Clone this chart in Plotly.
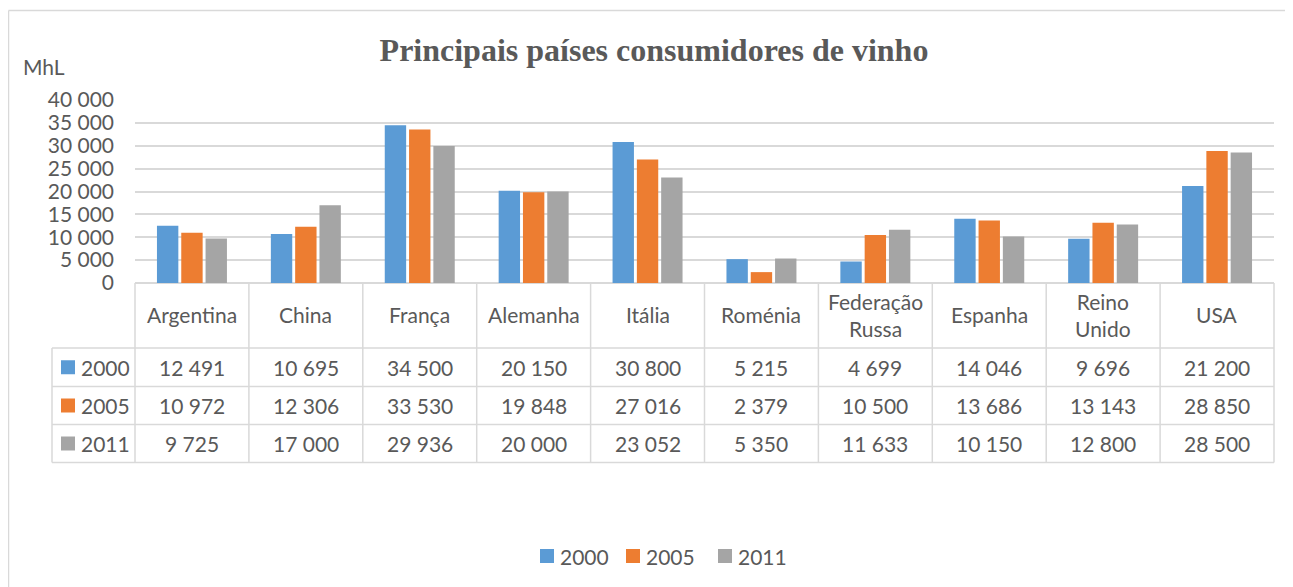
import plotly.graph_objects as go

OFF = 8  # default page margin of the browser
W, H = 1293 - OFF, 587 - OFF

categories = ["Argentina", "China", "França", "Alemanha", "Itália", "Roménia",
              "Federação<br>Russa", "Espanha", "Reino<br>Unido", "USA"]
years = ["2000", "2005", "2011"]
v2000 = [12491, 10695, 34500, 20150, 30800, 5215, 4699, 14046, 9696, 21200]
v2005 = [10972, 12306, 33530, 19848, 27016, 2379, 10500, 13686, 13143, 28850]
v2011 = [9725, 17000, 29936, 20000, 23052, 5350, 11633, 10150, 12800, 28500]
series = [v2000, v2005, v2011]
colors = ["#5B9BD5", "#ED7D31", "#A5A5A5"]
yticks = [0, 5000, 10000, 15000, 20000, 25000, 30000, 35000, 40000]

TXT = "#595959"
GRID = "#D9D9D9"
FONT = "Lato"
fs = 21


def px(x):
    return (x - OFF) / W


def py(y):
    return 1 - (y - OFF) / H


def fmt(v):
    return f"{v:,}".replace(",", " ")


# plot area in reference pixels
X0, X1 = 135, 1274
Y_TOP, Y_BOT = 100, 283
ROWS = [348, 386.5, 424.5, 462.5]
TLEFT = 52

fig = go.Figure()
for name, vals, c in zip(years, series, colors):
    fig.add_trace(go.Bar(x=list(range(len(categories))), y=vals, name=name,
                         marker=dict(color=c, line=dict(width=0)), showlegend=False))

shapes = []
lc = dict(color=GRID, width=1.5)
# outer border (left and top)
shapes.append(dict(type="line", xref="paper", yref="paper", x0=px(8.5), x1=1, y0=py(10.5), y1=py(10.5), line=lc))
shapes.append(dict(type="line", xref="paper", yref="paper", x0=px(8.5), x1=px(8.5), y0=py(10.5), y1=0, line=lc))
# data table grid
n = len(categories)
colw = (X1 - X0) / n
for i in range(n + 1):
    xx = X0 + i * colw
    shapes.append(dict(type="line", xref="paper", yref="paper", x0=px(xx), x1=px(xx),
                       y0=py(Y_BOT), y1=py(ROWS[-1]), line=lc))
shapes.append(dict(type="line", xref="paper", yref="paper", x0=px(TLEFT), x1=px(TLEFT),
                   y0=py(ROWS[0]), y1=py(ROWS[-1]), line=lc))
for r in ROWS:
    shapes.append(dict(type="line", xref="paper", yref="paper", x0=px(TLEFT), x1=px(X1),
                       y0=py(r), y1=py(r), line=lc))

ann = []
# legend keys in table
for j, (c, yr) in enumerate(zip(colors, years)):
    yc = (ROWS[j] + ROWS[j + 1]) / 2
    shapes.append(dict(type="rect", xref="paper", yref="paper", x0=px(61), x1=px(75),
                       y0=py(yc + 7), y1=py(yc - 7), fillcolor=c, line=dict(width=0)))
    ann.append(dict(x=px(79), y=py(yc), xref="paper", yref="paper", text=yr,
                    showarrow=False, font=dict(size=fs, color=TXT, family=FONT),
                    xanchor="left", yanchor="middle"))

for i, cat in enumerate(categories):
    xc = X0 + (i + 0.5) * colw
    ann.append(dict(x=px(xc), y=py((Y_BOT + ROWS[0]) / 2 - 1), xref="paper", yref="paper", text=cat,
                    showarrow=False, font=dict(size=fs, color=TXT, family=FONT),
                    xanchor="center", yanchor="middle"))
    for j, vals in enumerate(series):
        yc = (ROWS[j] + ROWS[j + 1]) / 2
        ann.append(dict(x=px(xc), y=py(yc), xref="paper", yref="paper", text=fmt(vals[i]),
                        showarrow=False, font=dict(size=fs, color=TXT, family=FONT),
                        xanchor="center", yanchor="middle"))

ann.append(dict(x=px(21), y=py(67), xref="paper", yref="paper", text="MhL", showarrow=False,
                font=dict(size=fs, color=TXT, family=FONT), xanchor="left", yanchor="middle"))

# bottom legend (drawn manually)
leg_x = [540, 626, 718]
for c, yr, lx in zip(colors, years, leg_x):
    shapes.append(dict(type="rect", xref="paper", yref="paper", x0=px(lx), x1=px(lx + 14),
                       y0=py(563), y1=py(549), fillcolor=c, line=dict(width=0)))
    ann.append(dict(x=px(lx + 18), y=py(556), xref="paper", yref="paper", text=yr,
                    showarrow=False, font=dict(size=fs, color=TXT, family=FONT),
                    xanchor="left", yanchor="middle"))

fig.update_layout(
    width=W, height=H,
    margin=dict(l=0, r=0, t=0, b=0, autoexpand=False),
    paper_bgcolor="white", plot_bgcolor="white",
    showlegend=False,
    title=dict(text="<b>Principais países consumidores de vinho</b>", x=px(654), y=py(50),
               xanchor="center", yanchor="middle",
               font=dict(family="Liberation Serif", size=32, color=TXT)),
    barmode="group", bargap=0.36, bargroupgap=0.12,
    xaxis=dict(domain=[px(X0), px(X1)], range=[-0.5, n - 0.5], showticklabels=False,
               showgrid=False, zeroline=False, showline=False, ticks=""),
    yaxis=dict(domain=[py(Y_BOT), py(Y_TOP)], range=[0, 40000], tickvals=yticks,
               ticktext=[fmt(v) for v in yticks], showgrid=True, gridcolor=GRID, gridwidth=1.5,
               zeroline=True, zerolinecolor=GRID, zerolinewidth=1.5, showline=False, ticks="",
               ticklabelstandoff=20,
               tickfont=dict(size=fs, color=TXT, family=FONT)),
    shapes=shapes, annotations=ann,
)

fig.write_html("out.html")
